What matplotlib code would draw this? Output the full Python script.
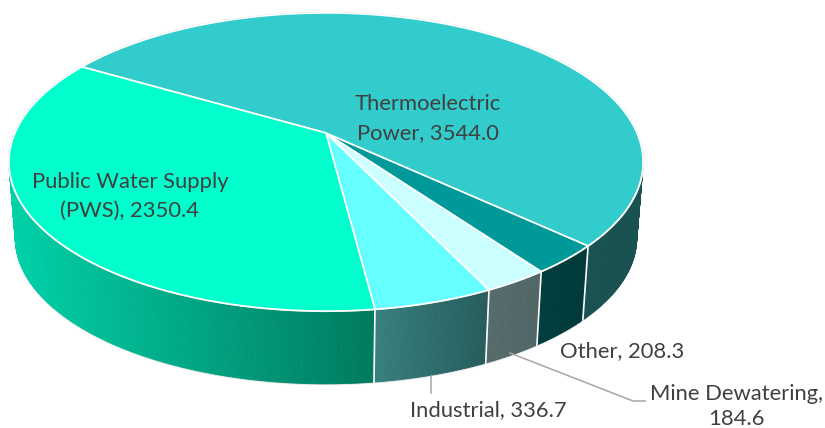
import numpy as np
import matplotlib
matplotlib.use("Agg")
import matplotlib.pyplot as plt
from matplotlib.collections import PolyCollection
from matplotlib.colors import to_rgb
from matplotlib.patches import Polygon

names = ["Industrial", "Mine Dewatering", "Other", "Thermoelectric Power", "Public Water Supply (PWS)"]
values = [336.7, 184.6, 208.3, 3544.0, 2350.4]
top_colors = ["#66FFFF", "#CCFFFF", "#009999", "#33CCCC", "#00FFCC"]
side_left = ["#38807F", "#566B6B", "#003D3D", "#1A5252", "#00D2A8"]
side_right = ["#265C5C", "#506666", "#003838", "#1A5252", "#007A5E"]

START = 7.3
CX, CY, A, B, K = 326.0, 133.0, 311.0, 143.4, 0.1946
SCALE, DROP = 0.98, 79.0

def top_xy(theta):
    t = np.radians(theta)
    w = 1 - K * np.cos(t)
    return CX + A * np.sin(t) / w, CY + B * np.cos(t) / w

def bottom_xy(theta):
    x, y = top_xy(theta)
    return CX + (x - CX) * SCALE, y * SCALE + DROP

fig = plt.figure(figsize=(8.25, 4.28), dpi=100, facecolor="white")
ax = fig.add_axes([0, 0, 1, 1])
ax.set_xlim(0, 825)
ax.set_ylim(428, 0)
ax.axis("off")

edges = START + np.concatenate([[0], np.cumsum(values)]) / np.sum(values) * 360

# sides
for i in range(len(values)):
    th = np.linspace(edges[i], edges[i + 1], max(int((edges[i + 1] - edges[i]) * 3), 8))
    tx, ty = top_xy(th)
    bx, by = bottom_xy(th)
    front = np.cos(np.radians(th)) > -0.25
    lo, hi = tx[front].min(), tx[front].max()
    cl, cr = np.array(to_rgb(side_left[i])), np.array(to_rgb(side_right[i]))
    quads, cols = [], []
    for j in range(len(th) - 1):
        quads.append([(tx[j], ty[j]), (tx[j + 1], ty[j + 1]), (bx[j + 1], by[j + 1]), (bx[j], by[j])])
        f = np.clip((0.5 * (tx[j] + tx[j + 1]) - lo) / max(hi - lo, 1), 0, 1)
        cols.append(cl + (cr - cl) * f)
    ax.add_collection(PolyCollection(quads, facecolors=cols, edgecolors=cols, linewidths=0.6, zorder=2))

# soft outer rim
th = np.linspace(-90, 90, 400)
bx, by = bottom_xy(th)
ax.plot(bx, by + 0.8, color="#E0E0E0", lw=0.8, zorder=1.5)

for e in edges[:-1]:
    x0, y0 = top_xy(e)
    x1, y1 = bottom_xy(e)
    ax.plot([x0, x1], [y0, y1], color="white", lw=1.2, zorder=3)

# tops
th = np.linspace(0, 360, 720)
rx, ry = top_xy(th)
ax.plot(rx, ry, color="#DADADA", lw=1.5, zorder=3.5)
for i in range(len(values)):
    th = np.linspace(edges[i], edges[i + 1], max(int((edges[i + 1] - edges[i]) * 3), 8))
    x, y = top_xy(th)
    pts = np.column_stack([np.r_[CX, x], np.r_[CY, y]])
    ax.add_patch(Polygon(pts, closed=True, facecolor=top_colors[i], edgecolor="white",
                         linewidth=1.2, joinstyle="round", zorder=4))

# leaders
LC = "#A6A6A6"
ax.plot([431, 431], [376, 393], color=LC, lw=1.1, zorder=2)
ax.plot([510, 633, 645], [353, 401, 401], color=LC, lw=1.1, zorder=2)

# labels
TC = "#404040"
FS = 15.8
kw = dict(color=TC, fontsize=FS, family="Lato", ha="center", va="center", zorder=6)
ax.text(428, 104, "Thermoelectric", **kw)
ax.text(428, 133, "Power, 3544.0", **kw)
ax.text(130, 182, "Public Water Supply", **kw)
ax.text(130, 211, "(PWS), 2350.4", **kw)
ax.text(622, 351, "Other, 208.3", **kw)
ax.text(488, 410, "Industrial, 336.7", **kw)
ax.text(736, 394, "Mine Dewatering,", **kw)
ax.text(736, 419, "184.6", **kw)

fig.savefig("out.png", dpi=100, facecolor="white")
